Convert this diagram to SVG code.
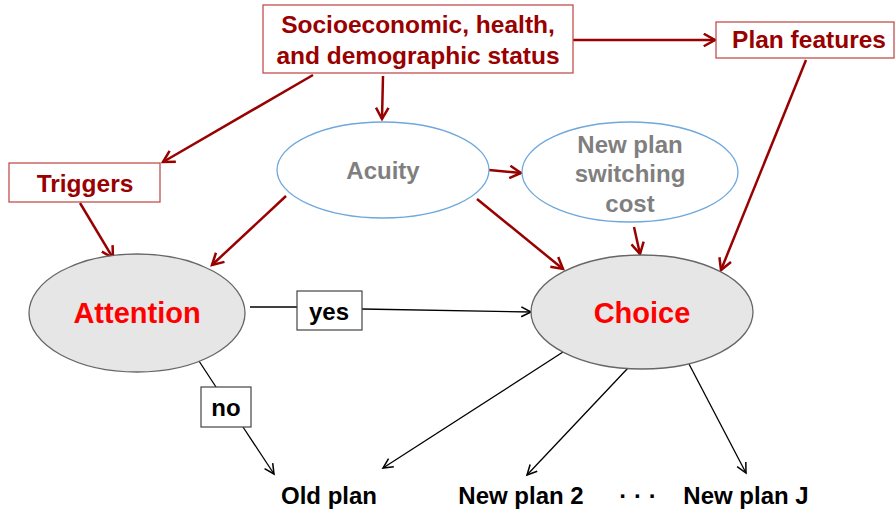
<svg xmlns="http://www.w3.org/2000/svg" width="896" height="516" viewBox="0 0 896 516">
<defs>
<style>
.rbox{fill:#fff;stroke:#c0504d;stroke-width:1.3}
.rt{font-family:"Liberation Sans",Arial,sans-serif;font-weight:bold;font-size:24.5px;fill:#990000;text-anchor:middle}
.gt{font-family:"Liberation Sans",Arial,sans-serif;font-weight:bold;font-size:24px;fill:#7f7f7f;text-anchor:middle}
.big{font-family:"Liberation Sans",Arial,sans-serif;font-weight:bold;font-size:29px;fill:#ff0000;text-anchor:middle}
.bt{font-family:"Liberation Sans",Arial,sans-serif;font-weight:bold;font-size:24px;fill:#000;text-anchor:middle}
.grey{fill:#e6e6e6;stroke:#666;stroke-width:1.3}
.blue{fill:#fff;stroke:#6fa8dc;stroke-width:1.3}
.wbox{fill:#fff;stroke:#444;stroke-width:1.2}
.ra{stroke:#990000;stroke-width:2.5;fill:none;marker-end:url(#mr)}
.ba{stroke:#000;stroke-width:1.3;fill:none}
.bam{marker-end:url(#mb)}
</style>
<marker id="mr" viewBox="0 0 12 12" refX="10" refY="6" markerWidth="6" markerHeight="6" orient="auto" markerUnits="strokeWidth">
<path d="M1,1 L10,6 L1,11" fill="none" stroke="#990000" stroke-width="2"/>
</marker>
<marker id="mb" viewBox="0 0 12 12" refX="10" refY="6" markerWidth="10" markerHeight="10" orient="auto" markerUnits="strokeWidth">
<path d="M1,1.5 L10,6 L1,10.5" fill="none" stroke="#000" stroke-width="1.4"/>
</marker>
</defs>
<rect width="896" height="516" fill="#fff"/>
<g id="connectors">
<line class="ra" x1="573" y1="40" x2="715" y2="40"/>
<line class="ra" x1="383" y1="76" x2="382" y2="119"/>
<line class="ra" x1="313" y1="75" x2="163" y2="162"/>
<line class="ra" x1="80" y1="203" x2="113" y2="258"/>
<line class="ra" x1="286" y1="196" x2="212" y2="265"/>
<line class="ra" x1="489" y1="170" x2="521" y2="173"/>
<line class="ra" x1="477" y1="199" x2="563" y2="269"/>
<line class="ra" x1="634" y1="227" x2="640" y2="254"/>
<line class="ra" x1="806" y1="60" x2="721" y2="270"/>
<line class="ba" x1="250" y1="307" x2="297" y2="307"/>
<line class="ba bam" x1="362" y1="309" x2="531" y2="312"/>
<line class="ba" x1="197" y1="358" x2="216" y2="387"/>
<line class="ba bam" x1="243" y1="427" x2="274" y2="474"/>
<line class="ba bam" x1="563" y1="352" x2="383" y2="468"/>
<line class="ba bam" x1="628" y1="368" x2="527" y2="475"/>
<line class="ba bam" x1="689" y1="364" x2="746" y2="473"/>
</g>
<g id="socio">
<rect class="rbox" x="263" y="5" width="310" height="68"/>
<text class="rt" x="418" y="33">Socioeconomic, health,</text>
<text class="rt" x="418" y="64">and demographic status</text>
</g>
<g id="planfeatures">
<rect class="rbox" x="716" y="22" width="178" height="36"/>
<text class="rt" x="809" y="48">Plan features</text>
</g>
<g id="triggers">
<rect class="rbox" x="9" y="163" width="151" height="39"/>
<text class="rt" x="85" y="192">Triggers</text>
</g>
<g id="acuity">
<ellipse class="blue" cx="383" cy="170" rx="106" ry="48"/>
<text class="gt" x="383" y="179">Acuity</text>
</g>
<g id="switching">
<ellipse class="blue" cx="630" cy="172" rx="108" ry="50"/>
<text class="gt" x="630" y="153">New plan</text>
<text class="gt" x="630" y="182">switching</text>
<text class="gt" x="630" y="212">cost</text>
</g>
<g id="attention">
<ellipse class="grey" cx="137" cy="313" rx="108" ry="59"/>
<text class="big" x="137" y="323">Attention</text>
</g>
<g id="choice">
<ellipse class="grey" cx="642" cy="312" rx="111" ry="57"/>
<text class="big" x="642" y="323">Choice</text>
</g>
<g id="yes">
<rect class="wbox" x="297" y="291" width="65" height="39"/>
<text class="bt" x="329" y="320">yes</text>
</g>
<g id="no">
<rect class="wbox" x="201" y="387" width="50" height="40"/>
<text class="bt" x="226" y="416">no</text>
</g>
<g id="oldplan"><text class="bt" x="329" y="504">Old plan</text></g>
<g id="newplan2"><text class="bt" x="521" y="504">New plan 2</text></g>
<g id="dots"><text class="bt" x="638" y="504">· · ·</text></g>
<g id="newplanJ"><text class="bt" x="746" y="504">New plan J</text></g>
</svg>
